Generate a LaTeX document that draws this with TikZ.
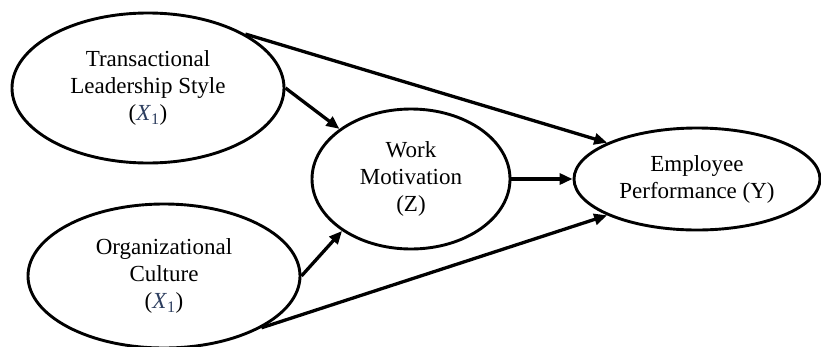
\documentclass[tikz,border=0pt]{standalone}
\usepackage{fontspec}
\setmainfont{Liberation Serif}
\usetikzlibrary{shapes.geometric,arrows.meta}
\definecolor{mathblue}{RGB}{45,62,95}
\tikzset{
  oval/.style={ellipse, draw=black, line width=2.9pt, fill=white, inner sep=0pt,
    align=center, font=\fontsize{23}{27}\selectfont},
  link/.style={line width=3.3pt, -{Triangle[length=13pt,width=11pt]}},
}
\newcommand{\xone}{(\textcolor{mathblue}{\textit{X}\textsubscript{1}})}
\begin{document}
\begin{tikzpicture}[x=1pt,y=-1pt]
\useasboundingbox (0,0) rectangle (821,346);
\node[oval, minimum width=272pt, minimum height=150pt] (t) at (148,88)
  {Transactional\\Leadership Style\\\xone};
\node[oval, minimum width=272pt, minimum height=144pt] (b) at (164,276)
  {Organizational\\Culture\\\xone};
\node[oval, minimum width=198pt, minimum height=140pt] (w) at (411,179)
  {Work\\Motivation\\(Z)};
\node[oval, minimum width=246pt, minimum height=102pt] (e) at (697,179)
  {Employee\\Performance (Y)};
\draw[link] (t.29) -- (e.158);
\draw[link] (t.east) -- (w.145);
\draw[link] (b.east) -- (w.217);
\draw[link] (b.-28) -- (e.202);
\draw[link] (w.east) -- (e.west);
\end{tikzpicture}
\end{document}
